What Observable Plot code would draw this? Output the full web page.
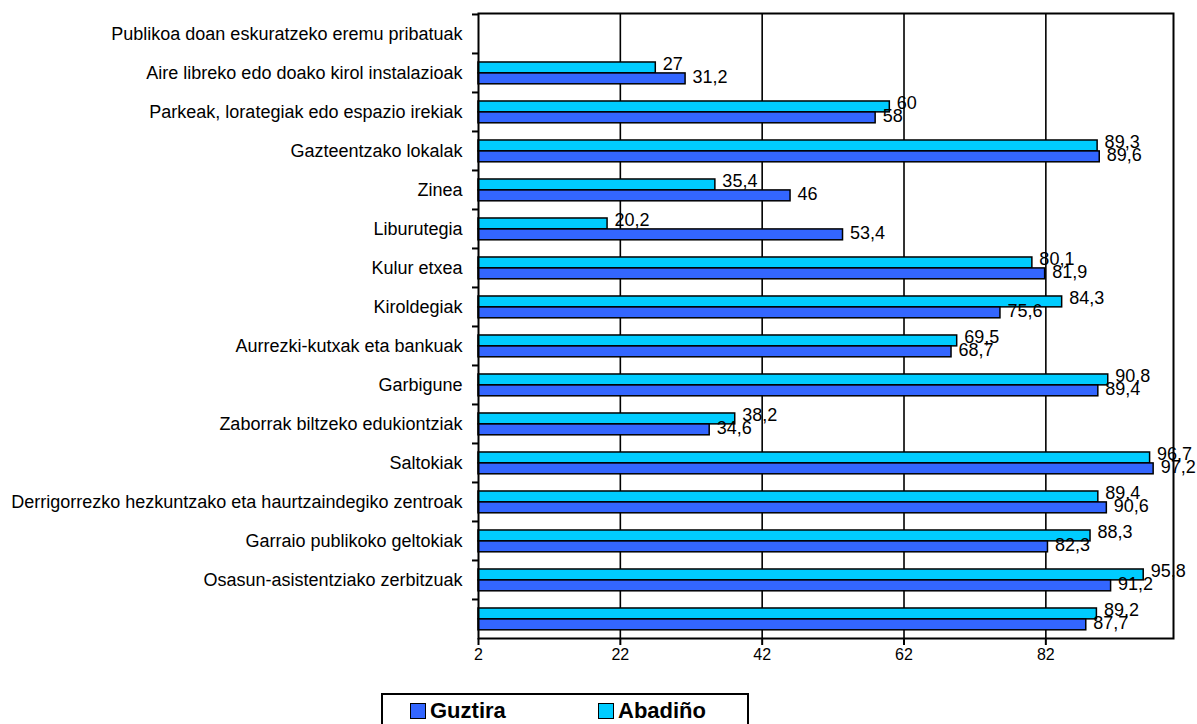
<!DOCTYPE html>
<html>
<head>
<meta charset="utf-8">
<script src="https://cdn.jsdelivr.net/npm/d3@7"></script>
<script src="https://cdn.jsdelivr.net/npm/@observablehq/plot@0.6"></script>
<style>
  html, body { margin: 0; padding: 0; background: #fff; }
  #wrap { position: relative; width: 1197px; height: 724px; overflow: hidden; font-family: Arial, "Liberation Sans", sans-serif; }
  #legend { position: absolute; left: 381px; top: 693px; width: 368px; height: 40px; border: 2px solid #000; box-sizing: border-box; background: #fff; }
  .item { position: absolute; top: 7px; display: flex; align-items: center; font-weight: bold; font-size: 22px; line-height: 18px; }
  .sw { width: 14px; height: 14px; border: 1.5px solid #000; margin-right: 4px; }
</style>
</head>
<body>
<div id="wrap">
  <div id="chart"></div>
  <div id="legend"></div>
</div>
<script>
const categories = [
  "Publikoa doan eskuratzeko eremu pribatuak",
  "Aire libreko edo doako kirol instalazioak",
  "Parkeak, lorategiak edo espazio irekiak",
  "Gazteentzako lokalak",
  "Zinea",
  "Liburutegia",
  "Kulur etxea",
  "Kiroldegiak",
  "Aurrezki-kutxak eta bankuak",
  "Garbigune",
  "Zaborrak biltzeko edukiontziak",
  "Saltokiak",
  "Derrigorrezko hezkuntzako eta haurtzaindegiko zentroak",
  "Garraio publikoko geltokiak",
  "Osasun-asistentziako zerbitzuak",
  " "
];
const guztira = [null, 31.2, 58, 89.6, 46, 53.4, 81.9, 75.6, 68.7, 89.4, 34.6, 97.2, 90.6, 82.3, 91.2, 87.7];
const abadino = [null, 27, 60, 89.3, 35.4, 20.2, 80.1, 84.3, 69.5, 90.8, 38.2, 96.7, 89.4, 88.3, 95.8, 89.2];
const seriesNames = ["Guztira", "Abadiño"];
const seriesColors = ["#3366FF", "#00CCFF"];
const xTicks = [2, 22, 42, 62, 82];
const xDomain = [2, 100];

const W = 1197, H = 680, mt = 13, mb = 42, ml = 478, mr = 24;
const band = (H - mt - mb) / categories.length;

const rowsG = categories.map((c, i) => ({cat: c, v: guztira[i]})).filter(d => d.v != null);
const rowsA = categories.map((c, i) => ({cat: c, v: abadino[i]})).filter(d => d.v != null);
const fmt = v => String(v).replace(".", ",");

const chart = Plot.plot({
  width: W, height: H,
  marginTop: mt, marginBottom: mb, marginLeft: ml, marginRight: mr,
  style: {fontFamily: "Arial, 'Liberation Sans', sans-serif", background: "#fff"},
  x: {domain: xDomain},
  y: {domain: categories, padding: 0},
  marks: [
    Plot.ruleX(xTicks.slice(1), {stroke: "#000", strokeWidth: 1.6}),
    Plot.barX(rowsA, {x1: xDomain[0], x2: "v", y: "cat", fill: seriesColors[1], stroke: "#000", strokeWidth: 1.5,
      insetTop: band * 0.23, insetBottom: band * 0.49}),
    Plot.barX(rowsG, {x1: xDomain[0], x2: "v", y: "cat", fill: seriesColors[0], stroke: "#000", strokeWidth: 1.5,
      insetTop: band * 0.51, insetBottom: band * 0.21}),
    Plot.text(rowsA, {x: "v", y: "cat", text: d => fmt(d.v), textAnchor: "start", dx: 7, dy: -band * 0.22, fontSize: 18, fill: "#000"}),
    Plot.text(rowsG, {x: "v", y: "cat", text: d => fmt(d.v), textAnchor: "start", dx: 7, dy: band * 0.12, fontSize: 18, fill: "#000"}),
    Plot.axisY({tickSize: 0, tickPadding: 16, fontSize: 18, label: null, tickFormat: d => d}),
    Plot.axisY({tickSize: 6, tickFormat: null, label: null, dy: -band / 2, strokeWidth: 2}),
    Plot.axisX({ticks: xTicks, tickSize: 7, tickPadding: 3, fontSize: 16, label: null, strokeWidth: 2}),
    Plot.frame({stroke: "#000", strokeWidth: 2})
  ]
});
document.getElementById("chart").append(chart);

const legend = document.getElementById("legend");
const legendX = [27, 215];
seriesNames.forEach((name, i) => {
  const it = document.createElement("div");
  it.className = "item";
  it.style.left = legendX[i] + "px";
  const sw = document.createElement("div");
  sw.className = "sw";
  sw.style.background = seriesColors[i];
  it.append(sw, document.createTextNode(name));
  legend.append(it);
});
</script>
</body>
</html>
